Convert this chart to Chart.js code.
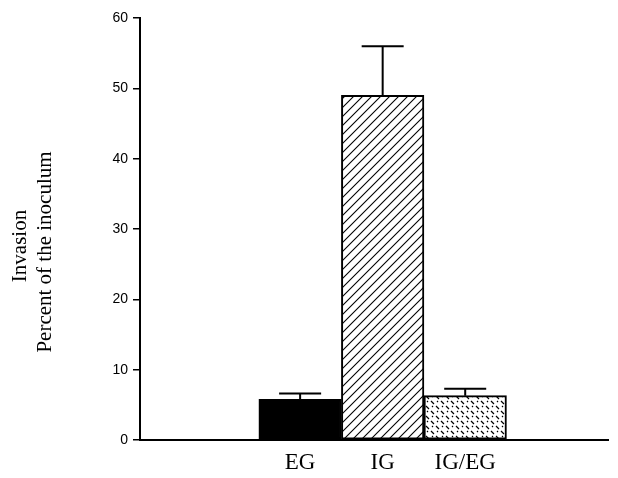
<!DOCTYPE html>
<html>
<head>
<meta charset="utf-8">
<script src="https://cdn.jsdelivr.net/npm/chart.js@4.4.0/dist/chart.umd.min.js"></script>
<style>
    html, body {margin: 0; padding: 0; background: #fff;}
    #wrap {width: 618px; height: 478px;}
</style>
</head>
<body>
<div id="wrap"><canvas id="chart"></canvas></div>
<script>
// data
const categories = ['EG', 'IG', 'IG/EG']
const invasion = [5.8, 49.0, 6.3]
const errorUp = [0.8, 7.0, 1.0]
const yTicks = [0, 10, 20, 30, 40, 50, 60]
const yTitle = ['Invasion', 'Percent of the inoculum']

function hatchPattern() {
    const c = document.createElement('canvas')
    c.width = 9
    c.height = 9
    const ctx = c.getContext('2d')
    ctx.fillStyle = '#fff'
    ctx.fillRect(0, 0, 9, 9)
    ctx.strokeStyle = '#000'
    ctx.lineWidth = 1.1
    ctx.beginPath()
    ctx.moveTo(-1, 10)
    ctx.lineTo(10, -1)
    ctx.moveTo(-1, 1)
    ctx.lineTo(1, -1)
    ctx.moveTo(8, 10)
    ctx.lineTo(10, 8)
    ctx.stroke()
    return ctx.createPattern(c, 'repeat')
}

function dashPattern() {
    const c = document.createElement('canvas')
    c.width = 10
    c.height = 10
    const ctx = c.getContext('2d')
    ctx.fillStyle = '#fff'
    ctx.fillRect(0, 0, 10, 10)
    ctx.strokeStyle = '#000'
    ctx.lineWidth = 1.2
    ctx.beginPath()
    ctx.moveTo(1, 1)
    ctx.lineTo(4, 4)
    ctx.moveTo(6, 6)
    ctx.lineTo(9, 9)
    ctx.moveTo(7, 2)
    ctx.lineTo(8, 1)
    ctx.moveTo(2, 7)
    ctx.lineTo(3, 6)
    ctx.stroke()
    return ctx.createPattern(c, 'repeat')
}

const fills = ['#000', hatchPattern(), dashPattern()]

// upward error bars
const errorBars = {
    id: 'errorBars',
    afterDatasetsDraw(chart) {
        const ctx = chart.ctx
        const meta = chart.getDatasetMeta(0)
        const y = chart.scales.y
        ctx.save()
        ctx.strokeStyle = '#000'
        ctx.lineWidth = 2
        meta.data.forEach((bar, i) => {
            const top = y.getPixelForValue(invasion[i])
            const tip = y.getPixelForValue(invasion[i] + errorUp[i])
            ctx.beginPath()
            ctx.moveTo(bar.x, top)
            ctx.lineTo(bar.x, tip)
            ctx.moveTo(bar.x - 21, tip)
            ctx.lineTo(bar.x + 21, tip)
            ctx.stroke()
        })
        ctx.restore()
    }
}

// two-line y title, drawn lower than the axis centre like the original
const yTitlePlugin = {
    id: 'yTitlePlugin',
    afterDraw(chart) {
        const ctx = chart.ctx
        ctx.save()
        ctx.fillStyle = '#000'
        ctx.font = '21px "Liberation Serif", serif'
        ctx.textAlign = 'center'
        ctx.textBaseline = 'middle'
        const xs = [20, 45]
        const ys = [246, 252]
        yTitle.forEach((t, i) => {
            ctx.save()
            ctx.translate(xs[i], ys[i])
            ctx.rotate(-Math.PI / 2)
            ctx.fillText(t, 0, 0)
            ctx.restore()
        })
        ctx.restore()
    }
}

new Chart(document.getElementById('chart'), {
    type: 'bar',
    data: {
        datasets: [{
            data: invasion.map((v, i) => ({x: i, y: v})),
            backgroundColor: fills,
            borderColor: '#000',
            borderWidth: 2,
            borderSkipped: false,
            barPercentage: 1,
            categoryPercentage: 1
        }]
    },
    options: {
        responsive: true,
        maintainAspectRatio: false,
        animation: false,
        layout: {padding: {top: 18, right: 10, left: 0, bottom: 0}},
        plugins: {legend: {display: false}, tooltip: {enabled: false}},
        scales: {
            x: {
                type: 'linear',
                offset: false,
                min: -1.94,
                max: 3.73,
                afterBuildTicks: (axis) => {
                    axis.ticks = categories.map((c, i) => ({value: i}))
                },
                afterFit: (axis) => {
                    axis.height = 38
                },
                grid: {display: false, offset: false},
                border: {display: true, color: '#000', width: 2},
                ticks: {
                    color: '#000',
                    padding: 1,
                    font: {family: '"Liberation Serif", serif', size: 23},
                    callback: (v) => categories[v] || ''
                }
            },
            y: {
                min: 0,
                max: 60,
                afterBuildTicks: (axis) => {
                    axis.ticks = yTicks.map(v => ({value: v}))
                },
                afterFit: (axis) => {
                    axis.width = 140
                },
                grid: {drawOnChartArea: false, drawTicks: true, tickLength: 7, color: '#000', lineWidth: 1.5},
                border: {display: true, color: '#000', width: 2},
                ticks: {
                    color: '#000',
                    padding: 5,
                    font: {family: '"Liberation Sans", Arial, sans-serif', size: 14}
                }
            }
        }
    },
    plugins: [errorBars, yTitlePlugin]
})
</script>
</body>
</html>
